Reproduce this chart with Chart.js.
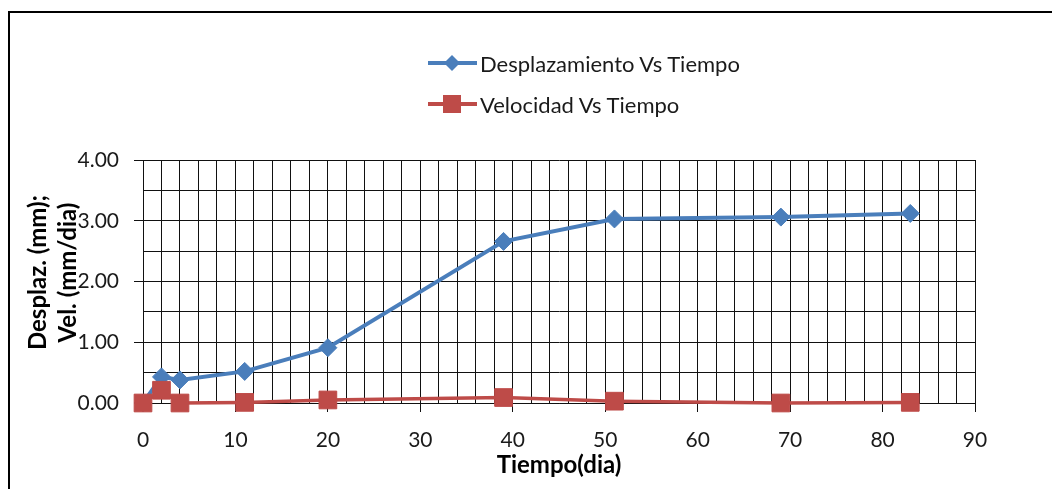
<!DOCTYPE html>
<html>
<head>
<meta charset="utf-8">
<script src="https://cdn.jsdelivr.net/npm/chart.js@4.4.0/dist/chart.umd.min.js"></script>
<style>
html,body{margin:0;padding:0;background:#fff;}
#wrap{position:relative;width:1052px;height:489px;overflow:hidden;background:#fff;}
#frame{position:absolute;left:8px;top:11px;width:2000px;height:1000px;border-left:2px solid #000;border-top:2px solid #000;}
#chart{position:absolute;left:0;top:0;}
#legend{position:absolute;left:0;top:0;font-family:Lato, sans-serif;font-size:22px;color:#1a1a1a;}
.item{position:absolute;left:428px;height:30px;display:flex;align-items:center;white-space:nowrap;}
.item svg{margin-right:3px;}
</style>
</head>
<body>
<div id="wrap">
  <div id="frame"></div>
  <canvas id="chart" width="1052" height="489"></canvas>
  <div id="legend"></div>
</div>
<script>
// ---- data ----
const days = [0, 2, 4, 11, 20, 39, 51, 69, 83];
const desplazamiento = [0, 0.43, 0.38, 0.52, 0.91, 2.66, 3.03, 3.06, 3.12];
const velocidad = [0, 0.21, 0.00, 0.01, 0.05, 0.09, 0.03, 0.00, 0.01];
const seriesNames = ['Desplazamiento Vs Tiempo', 'Velocidad Vs Tiempo'];
const xTitle = 'Tiempo(dia)';
const yTitle = ['Desplaz. (mm);', 'Vel. (mm/dia)'];

const BLUE = '#4A7EBB';
const RED = '#BE4B48';
const FONT = 'Lato';

const toPoints = (xs, ys) => xs.map((x, i) => ({x: x, y: ys[i]}));

// the reference's vertical axis title sits slightly above the plot centre
const yTitleShift = {
  id: 'yTitleShift',
  beforeDraw(chart) {
    const sc = chart.scales && chart.scales.y;
    if (!sc || sc._titleShifted) return;
    sc._titleShifted = true;
    const orig = sc.drawTitle.bind(sc);
    sc.drawTitle = function () {
      const t = this.top, b = this.bottom;
      this.top = t - 9; this.bottom = b - 9;
      orig();
      this.top = t; this.bottom = b;
    };
  }
};

const chart = new Chart(document.getElementById('chart'), {
  type: 'line',
  data: {
    datasets: [
      {
        label: seriesNames[0],
        data: toPoints(days, desplazamiento),
        borderColor: BLUE,
        backgroundColor: BLUE,
        borderWidth: 4,
        pointStyle: 'rectRot',
        pointRadius: 9,
        pointBorderWidth: 1,
        pointBorderColor: BLUE,
        pointBackgroundColor: BLUE,
        tension: 0,
        clip: false,
        order: 1
      },
      {
        label: seriesNames[1],
        data: toPoints(days, velocidad),
        borderColor: RED,
        backgroundColor: RED,
        borderWidth: 3.5,
        pointStyle: 'rect',
        pointRadius: 12.5,
        pointBorderWidth: 1,
        pointBorderColor: RED,
        pointBackgroundColor: RED,
        tension: 0,
        clip: false,
        order: 0
      }
    ]
  },
  options: {
    responsive: false,
    animation: false,
    devicePixelRatio: 1,
    layout: {padding: {top: 160, right: 77, left: 0, bottom: 0}},
    plugins: {legend: {display: false}, tooltip: {enabled: false}},
    scales: {
      x: {
        type: 'linear',
        min: 0,
        max: 90,
        afterFit: s => { s.height = 86; },
        afterBuildTicks: s => { s.ticks = []; for (let v = 0; v <= 90; v += 2) s.ticks.push({value: v}); },
        ticks: {
          autoSkip: false,
          maxRotation: 0,
          padding: 16,
          color: '#1a1a1a',
          font: {family: FONT, size: 21},
          callback: v => (v % 10 === 0 ? String(v) : '')
        },
        grid: {
          color: '#111',
          lineWidth: 1,
          tickLength: 9,
          tickColor: c => (c.tick && c.tick.value % 10 === 0 ? '#111' : 'rgba(0,0,0,0)')
        },
        border: {color: '#111', width: 1},
        title: {
          display: true,
          text: xTitle,
          color: '#000',
          font: {family: FONT, size: 24, weight: 'bold', lineHeight: 1.2},
          padding: {top: 0, bottom: 9}
        }
      },
      y: {
        min: 0,
        max: 4,
        afterFit: s => { s.width = 143; },
        afterBuildTicks: s => { s.ticks = []; for (let v = 0; v <= 4; v += 0.5) s.ticks.push({value: v}); },
        ticks: {
          autoSkip: false,
          padding: 15,
          color: '#1a1a1a',
          font: {family: FONT, size: 21},
          callback: v => (Number.isInteger(v) ? v.toFixed(2) : '')
        },
        grid: {
          color: '#111',
          lineWidth: 1,
          tickLength: 9,
          tickColor: c => (c.tick && Number.isInteger(c.tick.value) ? '#111' : 'rgba(0,0,0,0)')
        },
        border: {color: '#111', width: 1},
        title: {
          display: true,
          text: yTitle,
          color: '#000',
          font: {family: FONT, size: 24, weight: 'bold', lineHeight: 1.25},
          padding: {top: 23, bottom: 0}
        }
      }
    }
  },
  plugins: [yTitleShift]
});

// HTML legend built from the datasets (line + marker sample)
const legend = document.getElementById('legend');
const rowCenters = [63, 104];
chart.data.datasets.forEach((ds, i) => {
  const row = document.createElement('div');
  row.className = 'item';
  row.style.top = (rowCenters[i] - 15) + 'px';
  const marker = ds.pointStyle === 'rectRot'
    ? '<polygon points="24,2 32,10 24,18 16,10" fill="' + ds.borderColor + '"/>'
    : '<rect x="15" y="1" width="18" height="18" fill="' + ds.borderColor + '"/>';
  row.innerHTML = '<svg width="49" height="20" viewBox="0 0 49 20"><line x1="0" y1="10" x2="49" y2="10" stroke="' +
    ds.borderColor + '" stroke-width="4"/>' + marker + '</svg><span>' + ds.label + '</span>';
  legend.appendChild(row);
});
</script>
</body>
</html>
